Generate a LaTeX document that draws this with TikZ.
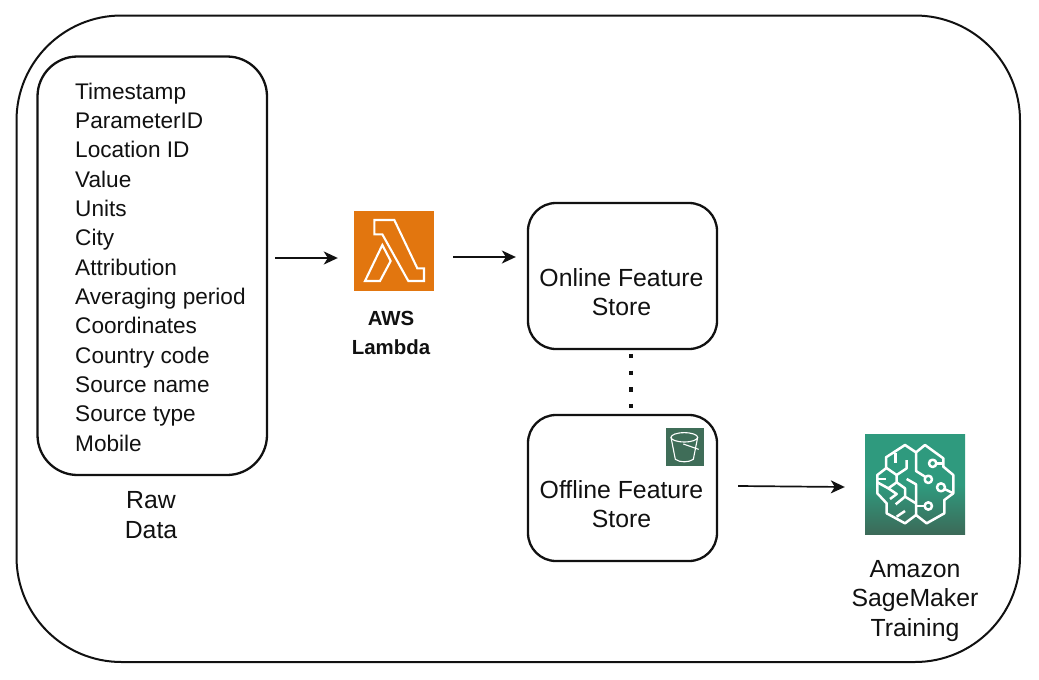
\documentclass[tikz,border=0pt]{standalone}
\usepackage{fontspec}
\setmainfont{Liberation Sans}
\usetikzlibrary{arrows.meta,calc}
\definecolor{lambdaor}{HTML}{E2760F}
\definecolor{sagetop}{HTML}{2F9A7E}
\definecolor{sagebot}{HTML}{3C6A58}
\definecolor{bucketg}{HTML}{3F6D58}
\definecolor{ink}{HTML}{111111}
\tikzset{
  x=1pt,y=-1pt,
  panel/.style={draw=ink,line width=2.3pt,fill=white,inner sep=0pt},
  storebox/.style={panel,rounded corners=28pt,minimum width=189pt,minimum height=146pt},
  label/.style={inner sep=0pt,align=center,text=ink,font=\fontsize{24.8}{29.2}\selectfont},
  flow/.style={draw=ink,line width=1.7pt,-{Stealth[length=14pt,width=13pt,inset=4pt]}},
  dotlink/.style={draw=ink,line width=4.6pt,dash pattern=on 4.6pt off 12.07pt},
  glyph/.style={draw=white,line width=2.1pt,line join=miter},
  brain/.style={draw=white,line width=2.5pt,line join=round}
}
\begin{document}
\begin{tikzpicture}
\useasboundingbox (0,0) rectangle (1039,680);
\fill[white] (0,0) rectangle (1039,680);
% outer frame
\node[panel,line width=2pt,rounded corners=105pt,minimum width=1003.5pt,minimum height=646.5pt] (frame) at (518.25,338.75) {};
% raw data
\node[panel,rounded corners=40pt,minimum width=229.5pt,minimum height=418.5pt] (raw) at (152.25,265.75) {};
\node[anchor=north west,inner sep=0pt,align=left,text=ink,font=\fontsize{22.6}{29.35}\selectfont] (fields) at (75,82.5) {Timestamp\\ParameterID\\Location ID\\Value\\Units\\City\\Attribution\\Averaging period\\Coordinates\\Country code\\Source name\\Source type\\Mobile};
\node[label] (rawlabel) at (151,515) {Raw\\Data};
% lambda
\node[fill=lambdaor,minimum size=80pt,inner sep=0pt] (lambda) at (394,251) {};
\begin{scope}[shift={(340,200)},x=0.3333pt,y=-0.3333pt]
\draw[glyph] (103,60)--(163,60)--(232,205)--(252,205)--(252,243)--(205,243)--(127,103)--(103,103)--cycle;
\draw[glyph] (127,135)--(152,183)--(120,243)--(75,243)--cycle;
\end{scope}
\node[label,font=\bfseries\fontsize{20.4}{29}\selectfont] (lambdalabel) at (391,333) {AWS\\Lambda};
% stores
\node[storebox] (online) at (622.5,276) {};
\node[label] (onlinelabel) at (621.5,292) {Online Feature\\Store};
\node[storebox] (offline) at (622.5,488) {};
\node[label] (offlinelabel) at (621.5,504) {Offline Feature\\Store};
\node[fill=bucketg,minimum size=38pt,inner sep=0pt] (bucket) at (685,447) {};
\begin{scope}[shift={(600,340)},x=0.3333pt,y=-0.3333pt]
\draw[white,line width=1.1pt] (253,292) ellipse (40 and 14);
\draw[white,line width=1.1pt] (213,292) -- (226,358) .. controls (240,368) and (266,368) .. (280,358) -- (293,292);
\draw[white,line width=1.1pt] (250,312) -- (296,328);
\end{scope}
% sagemaker
\node[minimum size=100pt,inner sep=0pt,top color=sagetop,bottom color=sagebot,middle color=sagetop,shading angle=0] (sage) at (915,484.5) {};
\begin{scope}[shift={(855,425)},x=0.3333pt,y=-0.3333pt]
\draw[brain] (150,60)--(183,82)--(210,60)--(265,100)--(265,125)--(295,150)--(295,205)--(268,225)--(268,265)--(215,295)--(183,270)--(150,295)--(95,265)--(95,235)--(67,205)--(67,150)--(93,130)--(93,97)--cycle;
\draw[brain] (183,82)--(183,138)--(210,155);
\draw[brain] (183,270)--(183,178)--(155,162);
\draw[brain] (233,115) circle (11);
\draw[brain] (244,115)--(265,115);
\draw[brain] (220,163) circle (11);
\draw[brain] (258,187) circle (12);
\draw[brain] (269,192)--(295,205);
\draw[brain] (220,243) circle (11);
\draw[brain] (209,243)--(183,243);
\draw[brain] (122,85)--(122,113);
\draw[brain] (155,105)--(155,130)--(125,150)--(93,128);
\draw[brain] (125,150)--(125,172)--(100,190)--(67,172);
\draw[brain] (67,162)--(92,162);
\draw[brain] (100,190)--(125,207)--(105,222);
\draw[brain] (125,172)--(150,190)--(150,215)--(122,238);
\draw[brain] (150,215)--(183,235);
\draw[brain] (125,275)--(150,258);
\end{scope}
\node[label] (sagelabel) at (915,601) {Amazon\\SageMaker\\Training};
% connectors
\draw[flow] ($(raw.east)+(7,-7.75)$) -- ($(lambda.west)+(-16,7)$);
\draw[flow] ($(lambda.east)+(19,6)$) -- ($(online.west)+(-11,-19)$);
\draw[flow] ($(offline.east)+(20,-2)$) -- ($(sage.west)+(-20,2.5)$);
\draw[dotlink] ($(online.south)+(8.5,3.7)$) -- ($(offline.north)+(8.5,-5.5)$);
\end{tikzpicture}
\end{document}
